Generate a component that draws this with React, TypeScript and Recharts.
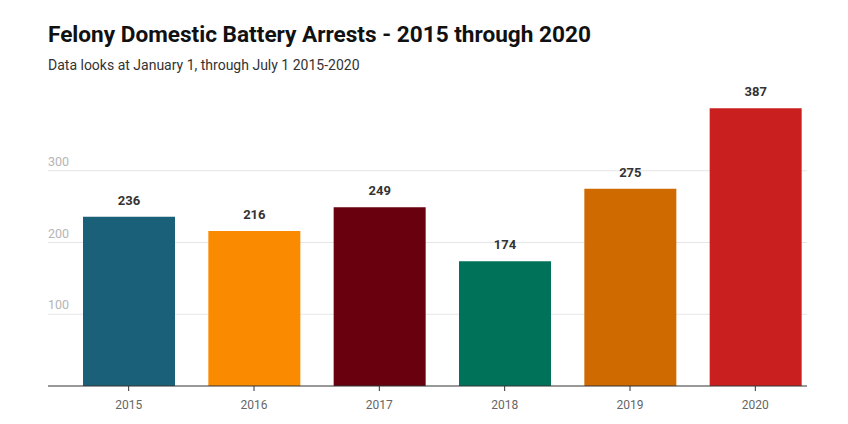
import React from 'react';
import { BarChart, Bar, XAxis, YAxis, CartesianGrid, Cell, LabelList } from 'recharts';

const years = ['2015', '2016', '2017', '2018', '2019', '2020'];
const arrests = [236, 216, 249, 174, 275, 387];
const barColors = ['#1a6079', '#fa8b00', '#69000e', '#007259', '#cf6a00', '#c91f1f'];
const yTicks = [100, 200, 300];

const data = years.map((y, i) => ({ year: y, value: arrests[i] }));

const YTick = (props: any) => {
  const { y, payload } = props;
  return (
    <text x={48} y={y - 5} fill="#b5b5b5" fontSize={12.5} fontFamily="Roboto" textAnchor="start">
      {payload.value}
    </text>
  );
};

export default function App() {
  return (
    <div style={{ position: 'absolute', left: 0, top: 0, width: 848, height: 424, background: '#fff', fontFamily: 'Roboto' }}>
      <div style={{ position: 'absolute', left: 48, top: 21, fontSize: 22.6, fontWeight: 700, color: '#111' }}>
        Felony Domestic Battery Arrests - 2015 through 2020
      </div>
      <div style={{ position: 'absolute', left: 48, top: 57, fontSize: 14, color: '#333' }}>
        Data looks at January 1, through July 1 2015-2020
      </div>
      <BarChart
        width={848}
        height={424}
        data={data}
        margin={{ top: 99, right: 41, bottom: 8, left: 0 }}
      >
        <CartesianGrid horizontal vertical={false} stroke="#e6e6e6" horizontalValues={yTicks} />
        <YAxis
          width={48}
          domain={[0, 400]}
          ticks={yTicks}
          axisLine={false}
          tickLine={false}
          tick={YTick}
          interval={0}
        />
        <XAxis
          dataKey="year"
          height={30}
          padding={{ left: 18, right: -11 }}
          axisLine={{ stroke: '#333' }}
          tickLine={{ stroke: '#333' }}
          tickSize={5}
          tickMargin={9}
          tick={{ fill: '#666', fontSize: 12, fontFamily: 'Roboto' }}
          interval={0}
        />
        <Bar dataKey="value" barSize={92} isAnimationActive={false}>
          {data.map((d, i) => (
            <Cell key={d.year} fill={barColors[i]} />
          ))}
          <LabelList dataKey="value" position="top" offset={12} fill="#333" fontSize={13} fontWeight={700} fontFamily="Roboto" />
        </Bar>
      </BarChart>
    </div>
  );
}
